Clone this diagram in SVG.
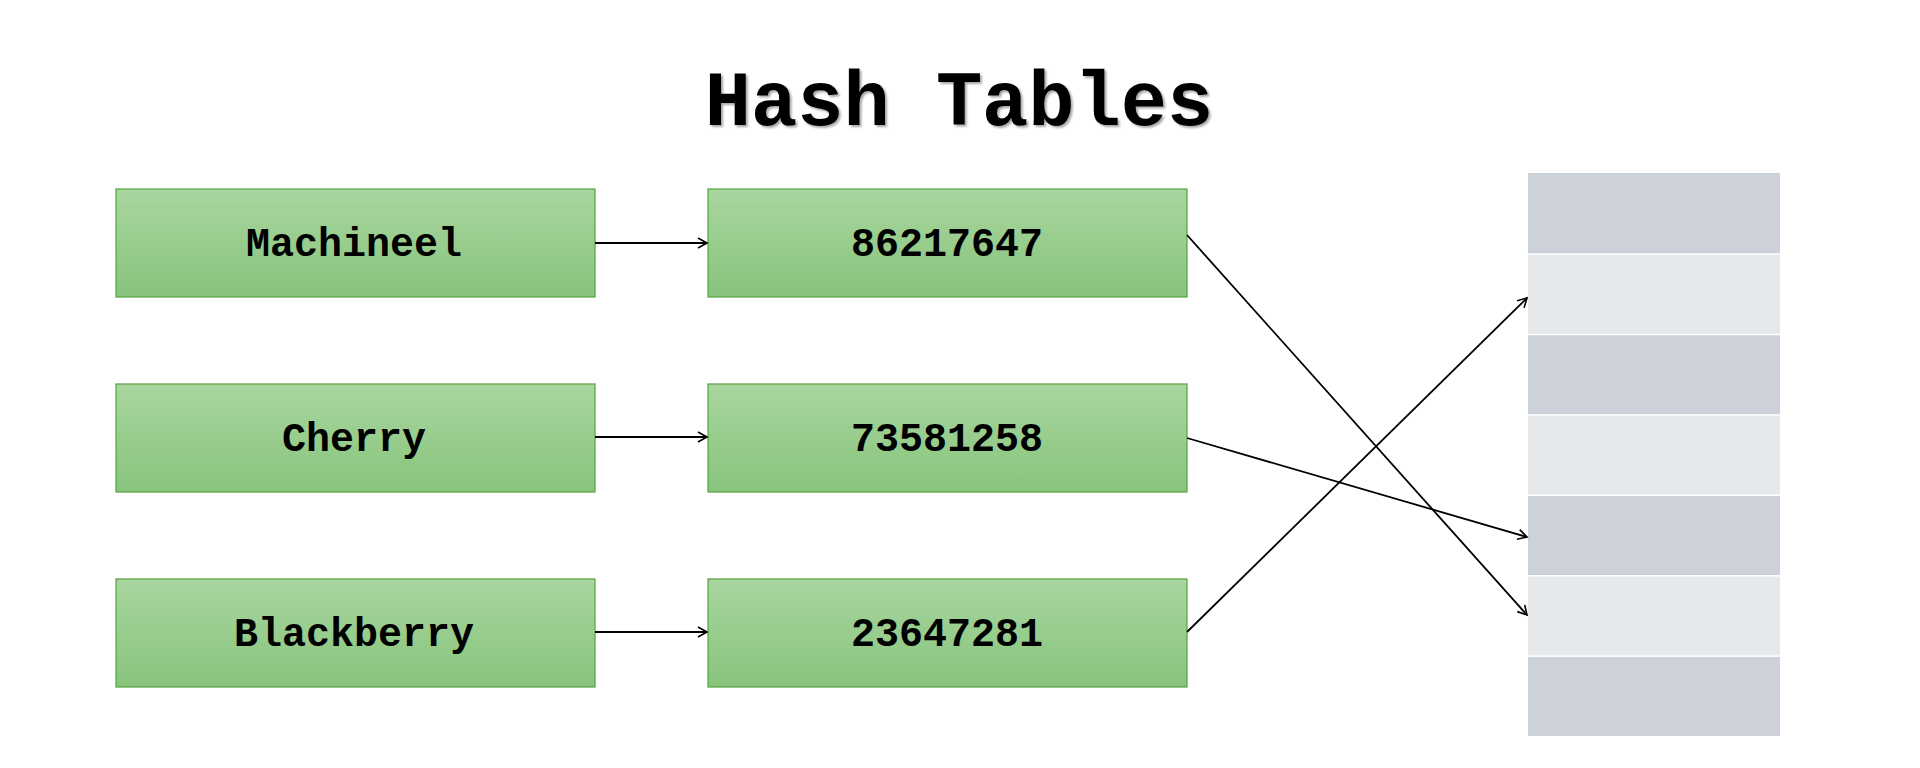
<svg xmlns="http://www.w3.org/2000/svg" width="1920" height="768" viewBox="0 0 1920 768">
<defs>
<linearGradient id="g" x1="0" y1="0" x2="0" y2="1">
<stop offset="0" stop-color="#a9d6a0"/>
<stop offset="1" stop-color="#87c47b"/>
</linearGradient>
<filter id="sh" x="-5%" y="-20%" width="110%" height="140%">
<feDropShadow dx="2" dy="2" stdDeviation="1.2" flood-color="#000" flood-opacity="0.35"/>
</filter>
<marker id="arr" markerWidth="14" markerHeight="14" refX="11" refY="7" orient="auto" markerUnits="userSpaceOnUse">
<path d="M2,2 L11,7 L2,12" fill="none" stroke="#000" stroke-width="1.6"/>
</marker>
</defs>
<style>
.box{fill:url(#g);stroke:#5da849;stroke-width:1.3}
.lbl{font-family:"Liberation Mono","Courier New",monospace;font-weight:bold;font-size:40px;fill:#000;text-anchor:middle}
.title{font-family:"Liberation Mono","Courier New",monospace;font-weight:bold;font-size:77px;fill:#000;text-anchor:middle}
.dk{fill:#cdd1d9}
.lt{fill:#e6e9ec}
.con{stroke:#000;stroke-width:1.8;fill:none;marker-end:url(#arr)}
</style>
<rect width="1920" height="768" fill="#fff"/>
<text class="title" x="959" y="125" filter="url(#sh)">Hash Tables</text>

<g id="key-machineel"><rect class="box" x="116" y="189" width="479" height="108"/><text class="lbl" x="354" y="256">Machineel</text></g>
<g id="key-cherry"><rect class="box" x="116" y="384" width="479" height="108"/><text class="lbl" x="354" y="451">Cherry</text></g>
<g id="key-blackberry"><rect class="box" x="116" y="579" width="479" height="108"/><text class="lbl" x="354" y="646">Blackberry</text></g>

<g id="hash-86217647"><rect class="box" x="708" y="189" width="479" height="108"/><text class="lbl" x="947" y="256">86217647</text></g>
<g id="hash-73581258"><rect class="box" x="708" y="384" width="479" height="108"/><text class="lbl" x="947" y="451">73581258</text></g>
<g id="hash-23647281"><rect class="box" x="708" y="579" width="479" height="108"/><text class="lbl" x="947" y="646">23647281</text></g>

<g id="table">
<rect class="dk" x="1528" y="173" width="252" height="80.4"/>
<rect class="lt" x="1528" y="254.9" width="252" height="78.9"/>
<rect class="dk" x="1528" y="335.3" width="252" height="78.9"/>
<rect class="lt" x="1528" y="415.7" width="252" height="78.9"/>
<rect class="dk" x="1528" y="496.1" width="252" height="78.9"/>
<rect class="lt" x="1528" y="576.5" width="252" height="78.9"/>
<rect class="dk" x="1528" y="656.9" width="252" height="79.1"/>
</g>

<g id="connectors">
<line class="con" x1="595" y1="243" x2="707" y2="243"/>
<line class="con" x1="595" y1="437" x2="707" y2="437"/>
<line class="con" x1="595" y1="632" x2="707" y2="632"/>
<line class="con" x1="1187" y1="235" x2="1527" y2="615"/>
<line class="con" x1="1187" y1="438" x2="1527" y2="537"/>
<line class="con" x1="1187" y1="632" x2="1527" y2="298"/>
</g>
</svg>
